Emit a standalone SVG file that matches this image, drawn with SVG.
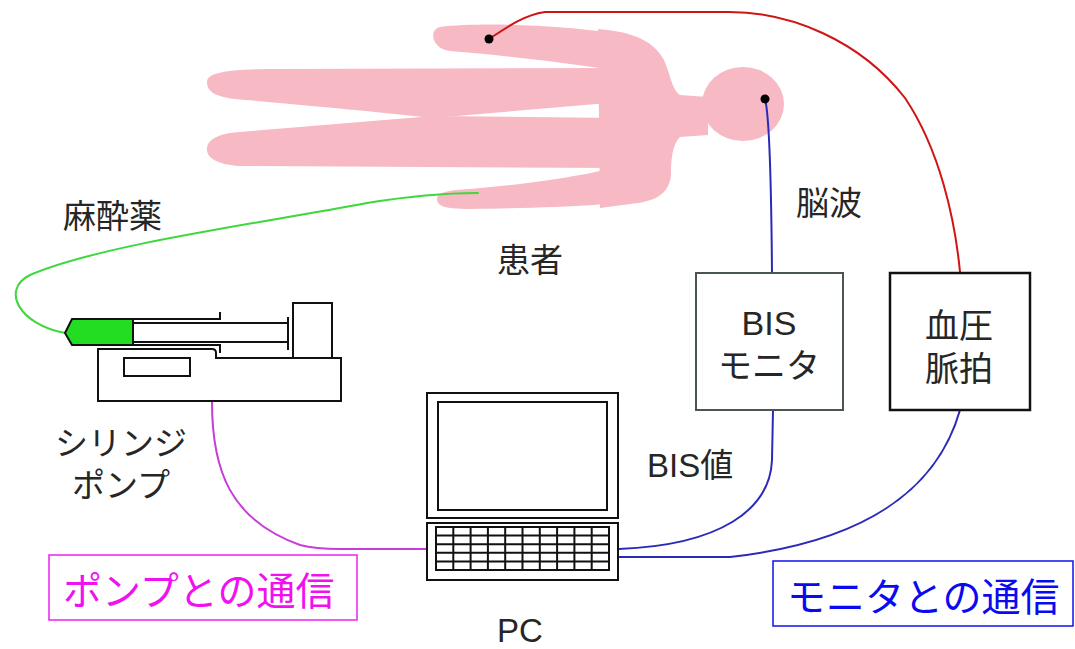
<svg xmlns="http://www.w3.org/2000/svg" width="1075" height="649" viewBox="0 0 1075 649">
  <style>
    .txt { font-family: "Liberation Sans", "Noto Sans CJK JP", sans-serif; fill: #262626; font-size: 33px; }
    .box-txt { font-size: 34px; }
    .body { fill: #F7BAC5; stroke: none; }
    .ln { fill: none; stroke: #111; stroke-width: 2; }
    .wire { fill: none; stroke-width: 2; stroke-linecap: round; stroke-linejoin: round; }
    .dot { fill: #000; }
  </style>
  <rect width="1075" height="649" fill="#fff"/>

  <!-- patient silhouette -->
  <g id="patient">
    <path class="body" d="M 440,27 C 480,22 560,25 612,33 L 640,40 L 640,72 L 612,70 C 560,62 500,55 450,51 C 432,49 428,30 440,27 Z"/>
    <path class="body" d="M 598,29 C 636,32 654,42 664,60 C 671,76 672,90 680,95 L 708,97 L 708,135 L 680,137 C 672,145 671,160 671,175 C 669,196 652,202 630,204 L 600,208 Z"/>
    <ellipse class="body" cx="743" cy="104" rx="41" ry="37"/>
    <path class="body" d="M 207,82 C 207,72 230,69 280,69 L 620,68 L 620,102 L 433,118 C 360,110 280,103 235,99 C 212,96 207,90 207,82 Z"/>
    <path class="body" d="M 433,116 L 620,118 L 620,168 L 240,166 C 212,164 206,155 207,148 C 208,138 222,133 240,132 Z"/>
    <path class="body" d="M 609,169 L 640,166 L 640,200 C 620,204 560,208 470,209 C 445,209 437,206 437,199 C 437,192 450,190 470,189 C 530,184 580,176 609,169 Z"/>
    <text class="txt" x="497" y="272">患者</text>
  </g>

  <!-- connectors -->
  <g id="connectors">
    <path class="wire" stroke="#D01414" d="M 489,39 C 510,25 525,15 545,12 L 729,12 C 790,12 860,40 905,98 C 940,150 955,220 960,272"/>
    <path class="wire" stroke="#2A2AB8" d="M 765,99 C 768,110 771,150 772,273"/>
    <path class="wire" stroke="#2A2AB8" d="M 773,410 L 772,460 C 770,510 720,545 619,549"/>
    <path class="wire" stroke="#2A2AB8" d="M 960,410 C 940,480 880,540 730,557 L 619,557"/>
    <path class="wire" stroke="#C83CD8" d="M 212,402 C 212,470 230,520 300,545 C 315,549 330,549 340,549 L 427,549"/>
    <path class="wire" stroke="#3CD83C" d="M 65,333 C 20,325 0,290 30,275 C 100,245 250,225 367,203 C 410,196 440,193 478,193"/>
    <circle class="dot" cx="489" cy="39" r="4.5"/>
    <circle class="dot" cx="765" cy="99" r="4.5"/>
  </g>

  <!-- syringe pump -->
  <g id="syringe-pump">
    <path d="M 65,333 L 72,319 L 133,319 L 133,345 L 72,345 Z" fill="#22DD22" stroke="#111" stroke-width="2"/>
    <path class="ln" d="M 133,319 L 220,319 L 220,312"/>
    <path class="ln" d="M 133,345 L 220,345 L 220,353"/>
    <path class="ln" d="M 133,323 L 288,323 M 133,342 L 288,342"/>
    <path class="ln" stroke-width="2.5" d="M 288,317 L 288,350"/>
    <rect class="ln" x="293" y="303" width="39" height="55" fill="#fff"/>
    <path class="ln" fill="#fff" d="M 98,349 L 212,349 Q 216,349 216,353 L 216,358 L 341,358 L 341,401 L 98,401 Z"/>
    <rect class="ln" x="124" y="358" width="66" height="18"/>
    <text class="txt" x="121" y="455" text-anchor="middle">シリンジ</text>
    <text class="txt" x="121" y="497" text-anchor="middle">ポンプ</text>
    <text class="txt" x="63" y="228">麻酔薬</text>
  </g>

  <!-- PC -->
  <g id="pc">
    <rect class="ln" x="427" y="393" width="191" height="125"/>
    <rect class="ln" x="438" y="402" width="169" height="108"/>
    <rect class="ln" x="427" y="523" width="191" height="57"/>
    <rect class="ln" x="436" y="527" width="173" height="43"/>
    <path class="ln" stroke-width="1.6" d="M 453.3,527 V 570 M 470.6,527 V 570 M 487.9,527 V 570 M 505.2,527 V 570 M 522.5,527 V 570 M 539.8,527 V 570 M 557.1,527 V 570 M 574.4,527 V 570 M 591.7,527 V 570 M 436,535.6 H 609 M 436,544.2 H 609 M 436,552.8 H 609 M 436,561.4 H 609"/>
    <text class="txt" x="520" y="642" text-anchor="middle" font-size="32">PC</text>
  </g>

  <!-- BIS monitor -->
  <g id="bis-monitor">
    <rect x="696" y="273" width="147" height="137" fill="#fff" stroke="#4A5550" stroke-width="2"/>
    <text class="txt box-txt" x="769" y="335" text-anchor="middle">BIS</text>
    <text class="txt box-txt" x="769" y="378" text-anchor="middle">モニタ</text>
    <text class="txt" x="796" y="215">脳波</text>
    <text class="txt" x="647" y="477">BIS値</text>
  </g>

  <!-- blood pressure / pulse monitor -->
  <g id="bp-monitor">
    <rect x="890" y="273" width="140" height="137" fill="#fff" stroke="#111" stroke-width="2.5"/>
    <text class="txt box-txt" x="959" y="338" text-anchor="middle">血圧</text>
    <text class="txt box-txt" x="959" y="381" text-anchor="middle">脈拍</text>
  </g>

  <!-- communication labels -->
  <g id="pump-comm">
    <rect x="49" y="555" width="308" height="65" fill="none" stroke="#F020F0" stroke-width="1.5"/>
    <text x="63" y="605" font-family="Noto Sans CJK JP, sans-serif" font-size="39" fill="#F010F0">ポンプとの通信</text>
  </g>
  <g id="monitor-comm">
    <rect x="773" y="561" width="300" height="65" fill="none" stroke="#1010F0" stroke-width="1.5"/>
    <text x="787" y="611" font-family="Noto Sans CJK JP, sans-serif" font-size="39" fill="#0A0AF0">モニタとの通信</text>
  </g>
</svg>
